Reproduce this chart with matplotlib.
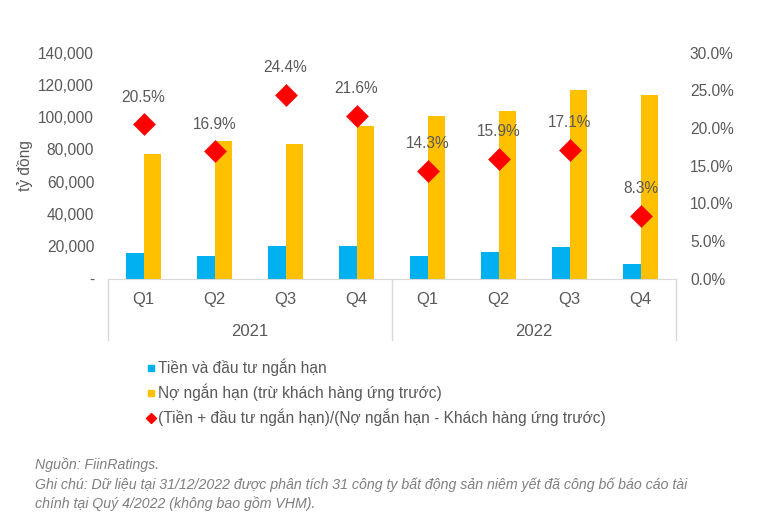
import numpy as np
import matplotlib
matplotlib.use("Agg")
import matplotlib.pyplot as plt
from matplotlib.lines import Line2D
from matplotlib.ticker import FuncFormatter

plt.rcParams['font.family'] = ['Liberation Sans', 'DejaVu Sans']

# dữ liệu
quarters = ["Q1", "Q2", "Q3", "Q4", "Q1", "Q2", "Q3", "Q4"]
years = ["2021", "2022"]
tien_dtnh = [16000, 14100, 20300, 20300, 14200, 16300, 19800, 9300]
no_ngan_han = [77100, 85200, 83300, 94700, 100700, 103800, 117100, 114000]
ty_le = [20.5, 16.9, 24.4, 21.6, 14.3, 15.9, 17.1, 8.3]

lbl_tien = "Tiền và đầu tư ngắn hạn"
lbl_no = "Nợ ngắn hạn (trừ khách hàng ứng trước)"
lbl_tyle = "(Tiền + đầu tư ngắn hạn)/(Nợ ngắn hạn - Khách hàng ứng trước)"

BLUE = "#00B0F0"
YELLOW = "#FFC000"
RED = "#FF0000"
TXT = "#595959"
GRID = "#D9D9D9"
FS = 11.2

fig = plt.figure(figsize=(7.65, 5.24), dpi=100)
ax = fig.add_axes([0.1412, 0.4685, 0.7425, 0.4309])
ax2 = ax.twinx()

x = np.arange(len(quarters))
w = 0.24
ax.bar(x - w / 2, tien_dtnh, w, color=BLUE, zorder=2)
ax.bar(x + w / 2, no_ngan_han, w, color=YELLOW, zorder=2)
ax.set_xlim(-0.5, len(quarters) - 0.5)
ax.set_ylim(0, 140000)
ax.set_yticks(np.arange(0, 140001, 20000))
ax.yaxis.set_major_formatter(FuncFormatter(lambda v, p: "-" if v == 0 else f"{int(v):,}"))

ax2.scatter(x, np.array(ty_le) / 100, marker="D", s=135, color=RED, zorder=3, linewidths=0)
for xi, v in zip(x, ty_le):
    ax2.annotate(f"{v:.1f}%", (xi, v / 100), xytext=(0, 19.5), textcoords="offset points",
                 ha="center", va="center", fontsize=FS, color=TXT)
ax2.set_ylim(0, 0.30)
ax2.set_yticks(np.arange(0, 0.301, 0.05))
ax2.yaxis.set_major_formatter(FuncFormatter(lambda v, p: f"{v * 100:.1f}%"))

for a in (ax, ax2):
    for s in ("top", "left", "right", "bottom"):
        a.spines[s].set_visible(False)
    a.tick_params(axis="y", length=0, labelsize=FS, labelcolor=TXT, pad=10)
ax.tick_params(axis="x", length=0, labelbottom=False)
ax.spines["bottom"].set_visible(True)
ax.spines["bottom"].set_color(GRID)
ax.set_ylabel("tỷ đồng", fontsize=FS, color=TXT, labelpad=4)

# trục phân loại hai tầng
trans = ax.get_xaxis_transform()
for xi, q in zip(x, quarters):
    ax.text(xi, -0.091, q, transform=trans, ha="center", va="center", fontsize=12, color=TXT)
for i, yr in enumerate(years):
    ax.text(1.5 + 4 * i, -0.2325, yr, transform=trans, ha="center", va="center", fontsize=12, color=TXT)
for xv in (-0.5, 3.5, 7.5):
    ax.plot([xv, xv], [0, -0.272], transform=trans, color=GRID, lw=1, clip_on=False)

handles = [
    Line2D([], [], marker="s", ls="", color=BLUE, markersize=5),
    Line2D([], [], marker="s", ls="", color=YELLOW, markersize=5),
    Line2D([], [], marker="D", ls="", color=RED, markersize=5),
]
fig.legend(handles, [lbl_tien, lbl_no, lbl_tyle], loc="upper left", bbox_to_anchor=(0.191, 0.315),
           frameon=False, fontsize=FS, labelcolor=TXT, handlelength=0.6, handletextpad=0.17,
           labelspacing=0.47, borderpad=0, borderaxespad=0)

ghi_chu = [
    "Nguồn: FiinRatings.",
    "Ghi chú: Dữ liệu tại 31/12/2022 được phân tích 31 công ty bất động sản niêm yết đã công bố báo cáo tài",
    "chính tại Quý 4/2022 (không bao gồm VHM).",
]
for yy, line in zip((0.1126, 0.0744, 0.0382), ghi_chu):
    fig.text(0.046, yy, line, fontsize=10.2, style="italic", color="#7F7F7F", va="center")

fig.savefig("out.png", dpi=100)
